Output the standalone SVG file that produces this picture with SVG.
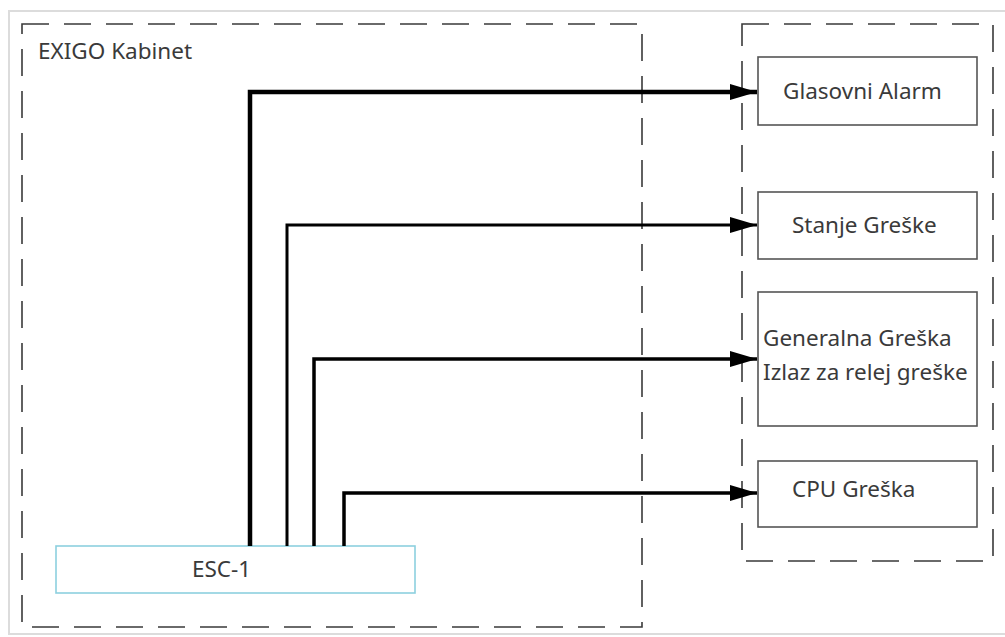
<svg xmlns="http://www.w3.org/2000/svg" width="1005" height="637" viewBox="0 0 1005 637">
<defs>
<style>
.frame{fill:#fff;stroke:#dcdcdc;stroke-width:2}
.dash{fill:none;stroke:#3a3a3a;stroke-width:1.6;stroke-dasharray:27 15}
.box{fill:#fff;stroke:#555;stroke-width:1.6}
.esc{fill:#fff;stroke:#8dd0df;stroke-width:1.6}
.lbl{font-family:"Noto Sans","Open Sans",sans-serif;font-size:22.5px;fill:#3a3a3a}
.wire{fill:none;stroke:#000;stroke-linejoin:miter}
</style>
<marker id="arr" markerUnits="userSpaceOnUse" markerWidth="28" markerHeight="20" refX="27" refY="10" orient="auto" viewBox="0 0 28 20">
<path d="M0,2 L27,10 L0,18 Z" fill="#000"/>
</marker>
</defs>
<rect x="0" y="0" width="1005" height="637" fill="#fff"/>
<rect class="frame" x="9" y="11" width="1000" height="623"/>
<g id="exigo-kabinet">
<rect class="dash" x="22" y="24" width="620" height="603"/>
<text class="lbl" x="38" y="59">EXIGO Kabinet</text>
</g>
<g id="outputs-group">
<rect class="dash" x="742" y="24" width="251" height="537"/>
</g>
<g id="glasovni-alarm">
<rect class="box" x="758" y="57" width="219" height="68"/>
<text class="lbl" x="783" y="99">Glasovni Alarm</text>
</g>
<g id="stanje-greske">
<rect class="box" x="758" y="192" width="219" height="67"/>
<text class="lbl" x="792" y="233">Stanje Greške</text>
</g>
<g id="generalna-greska">
<rect class="box" x="758" y="292" width="219" height="134"/>
<text class="lbl" x="763" y="346">Generalna Greška</text>
<text class="lbl" x="763" y="380">Izlaz za relej greške</text>
</g>
<g id="cpu-greska">
<rect class="box" x="758" y="461" width="219" height="66"/>
<text class="lbl" x="792" y="497">CPU Greška</text>
</g>
<g id="esc-1">
<rect class="esc" x="56" y="546" width="359" height="47"/>
<text class="lbl" x="192" y="577">ESC-1</text>
</g>
<g id="connectors">
<path class="wire" stroke-width="4.5" d="M250,546 V92 H757" marker-end="url(#arr)"/>
<path class="wire" stroke-width="3" d="M287,546 V225 H757" marker-end="url(#arr)"/>
<path class="wire" stroke-width="3.5" d="M314,546 V359 H757" marker-end="url(#arr)"/>
<path class="wire" stroke-width="3.5" d="M344,546 V493 H757" marker-end="url(#arr)"/>
</g>
</svg>
